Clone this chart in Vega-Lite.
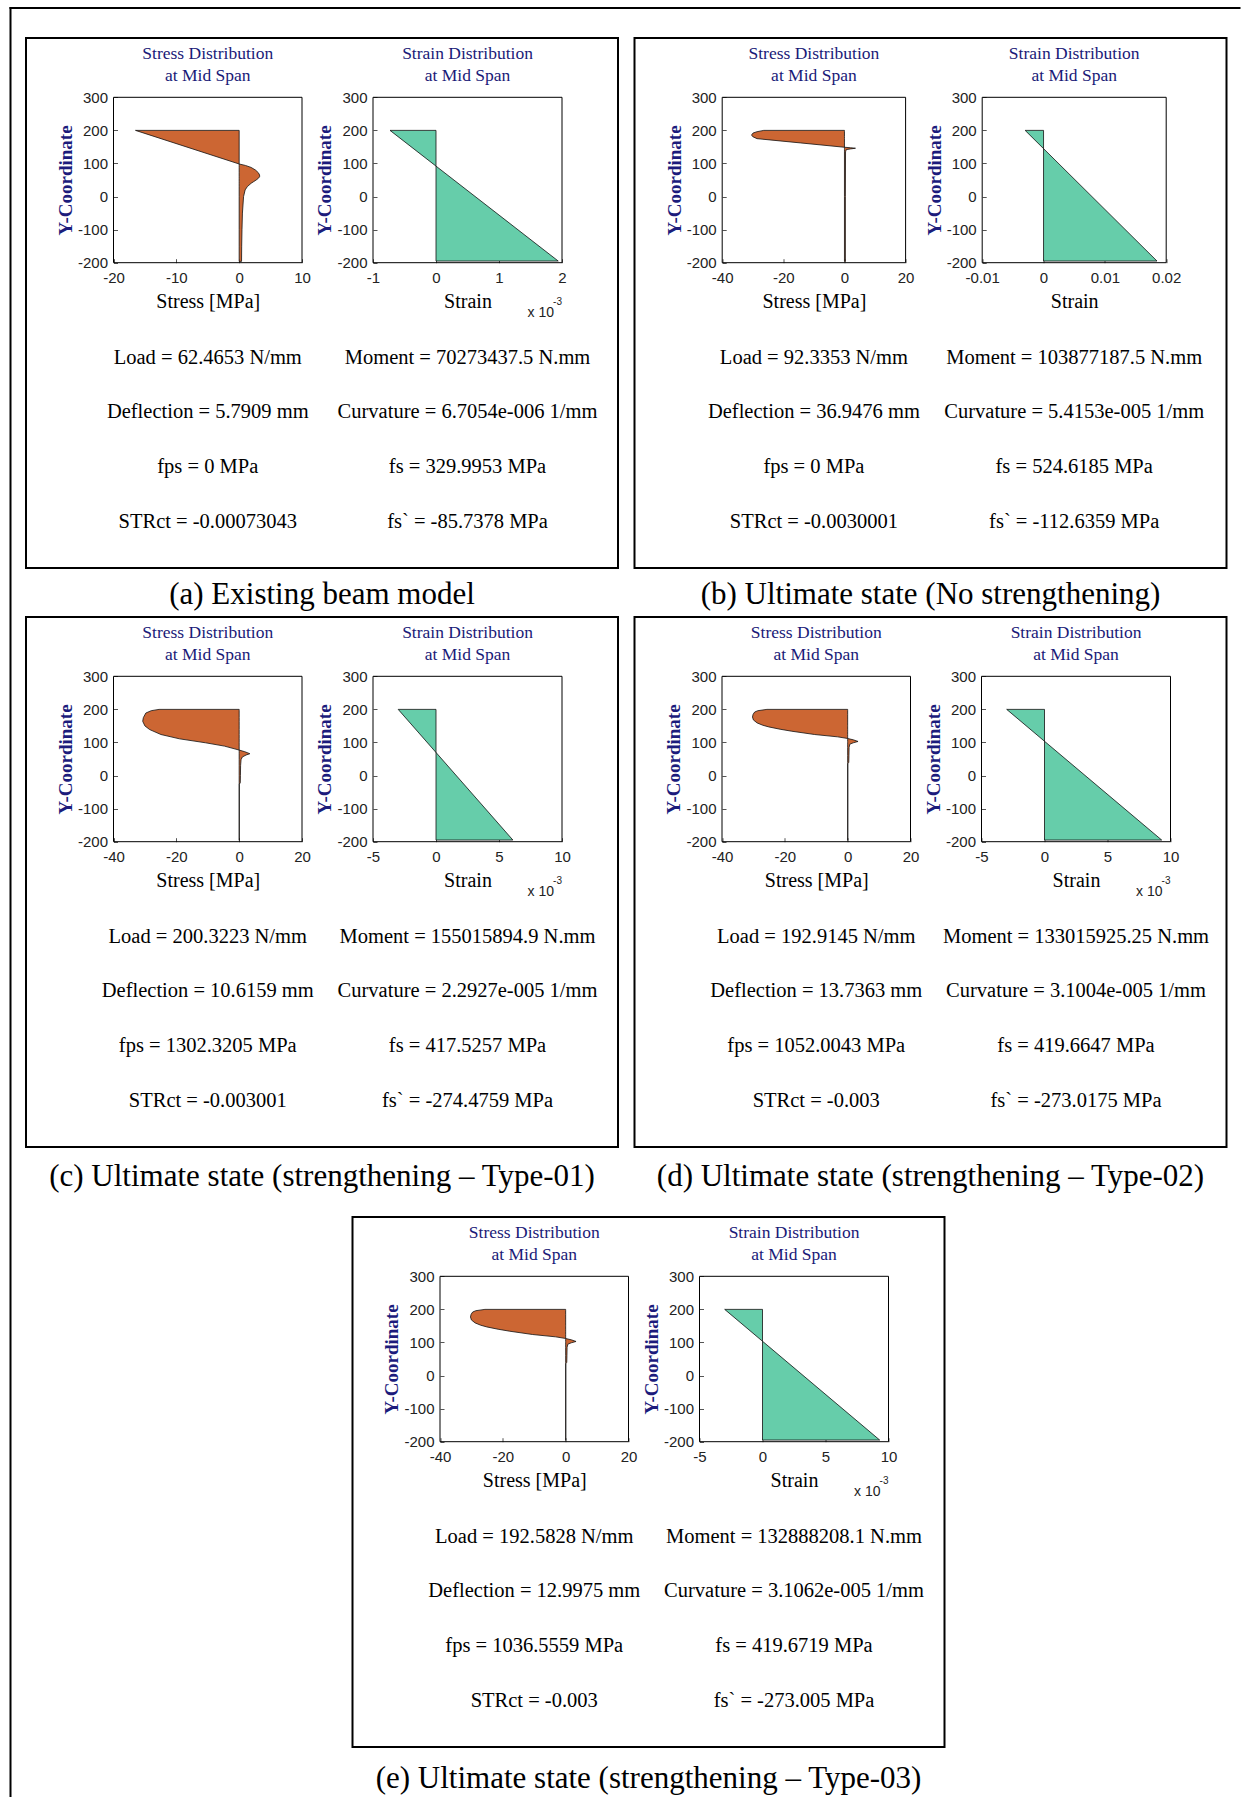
{
"$schema": "https://vega.github.io/schema/vega-lite/v6.json",
"background": "white",
"padding": {"left": 9, "top": 6, "right": 0, "bottom": 0},
"config": {
  "view": {"stroke": "black", "strokeWidth": 2},
  "axis": {"grid": false, "domain": false, "ticks": true, "tickSize": -4, "tickColor": "#555", "tickWidth": 1,
           "labelFont": "Liberation Sans", "labelFontSize": 15, "labelColor": "#222", "labelFlush": false, "labelOverlap": false,
           "titleFont": "Liberation Serif", "titleFontWeight": "normal", "titleColor": "black", "titleFontSize": 20},
  "axisX": {"labelPadding": 12, "titlePadding": 22, "titleBaseline": "alphabetic"},
  "axisY": {"labelPadding": 10, "titlePadding": 6, "titleBaseline": "alphabetic", "titleColor": "#1c1c7c", "titleFontWeight": "bold", "titleFontSize": 19},
  "title": {"font": "Liberation Serif", "fontSize": 31, "fontWeight": "normal", "color": "black", "orient": "bottom", "offset": 12, "anchor": "middle"},
  "text": {"font": "Liberation Serif"}
},
"datasets": {
  "stress": [
    {"p":"a","y":200,"s":-16.5},{"p":"a","y":98.4,"s":0},{"p":"a","y":94,"s":1.0},{"p":"a","y":88,"s":1.9},{"p":"a","y":80,"s":2.6},{"p":"a","y":72,"s":3.05},{"p":"a","y":65,"s":3.25},{"p":"a","y":60,"s":3.25},{"p":"a","y":55,"s":3.05},{"p":"a","y":50,"s":2.7},{"p":"a","y":45,"s":2.3},{"p":"a","y":40,"s":1.9},{"p":"a","y":30,"s":1.3},{"p":"a","y":20,"s":0.95},{"p":"a","y":0,"s":0.7},{"p":"a","y":-50,"s":0.52},{"p":"a","y":-100,"s":0.45},{"p":"a","y":-150,"s":0.4},{"p":"a","y":-196,"s":0.38},
    {"p":"b","y":200,"s":-26.4},{"p":"b","y":196,"s":-28.6},{"p":"b","y":192,"s":-29.9},{"p":"b","y":186,"s":-30.4},{"p":"b","y":181,"s":-30.0},{"p":"b","y":175,"s":-28.6},{"p":"b","y":162,"s":-14.3},{"p":"b","y":149,"s":0},{"p":"b","y":147.5,"s":2.0},{"p":"b","y":146,"s":3.6},{"p":"b","y":144,"s":2.0},{"p":"b","y":142,"s":0.6},{"p":"b","y":135,"s":0.35},{"p":"b","y":0,"s":0.3},{"p":"b","y":-196,"s":0.3},
    {"p":"c","y":200,"s":-25.5},{"p":"c","y":196,"s":-28.0},{"p":"c","y":189,"s":-29.7},{"p":"c","y":175,"s":-30.5},{"p":"c","y":164,"s":-30.7},{"p":"c","y":150,"s":-30.0},{"p":"c","y":139,"s":-28.5},{"p":"c","y":124,"s":-24.9},{"p":"c","y":111,"s":-19.0},{"p":"c","y":99,"s":-10.7},{"p":"c","y":89,"s":-4.7},{"p":"c","y":77,"s":0},{"p":"c","y":72,"s":1.8},{"p":"c","y":66,"s":3.4},{"p":"c","y":62,"s":2.2},{"p":"c","y":56,"s":1.0},{"p":"c","y":48,"s":0.6},{"p":"c","y":30,"s":0.45},{"p":"c","y":0,"s":0.4},{"p":"c","y":-22,"s":0.35},{"p":"c","y":-26,"s":0.05},{"p":"c","y":-196,"s":0.05},
    {"p":"d","y":200,"s":-25.7},{"p":"d","y":196,"s":-28.6},{"p":"d","y":192,"s":-29.6},{"p":"d","y":185,"s":-30.1},{"p":"d","y":177,"s":-30.3},{"p":"d","y":168,"s":-30.0},{"p":"d","y":159,"s":-28.8},{"p":"d","y":152,"s":-27.0},{"p":"d","y":147,"s":-25.1},{"p":"d","y":140,"s":-21.5},{"p":"d","y":134,"s":-17.8},{"p":"d","y":124,"s":-10.5},{"p":"d","y":117,"s":-3.2},{"p":"d","y":112,"s":0},{"p":"d","y":108,"s":1.8},{"p":"d","y":103,"s":3.3},{"p":"d","y":99,"s":1.8},{"p":"d","y":95,"s":0.7},{"p":"d","y":85,"s":0.45},{"p":"d","y":60,"s":0.4},{"p":"d","y":40,"s":0.35},{"p":"d","y":36,"s":0.05},{"p":"d","y":-196,"s":0.05},
    {"p":"e","y":200,"s":-25.7},{"p":"e","y":196,"s":-28.6},{"p":"e","y":192,"s":-29.6},{"p":"e","y":185,"s":-30.1},{"p":"e","y":177,"s":-30.3},{"p":"e","y":168,"s":-30.0},{"p":"e","y":159,"s":-28.8},{"p":"e","y":152,"s":-27.0},{"p":"e","y":147,"s":-25.1},{"p":"e","y":140,"s":-21.5},{"p":"e","y":134,"s":-17.8},{"p":"e","y":124,"s":-10.5},{"p":"e","y":117,"s":-3.2},{"p":"e","y":112,"s":0},{"p":"e","y":108,"s":1.8},{"p":"e","y":103,"s":3.3},{"p":"e","y":99,"s":1.8},{"p":"e","y":95,"s":0.7},{"p":"e","y":85,"s":0.45},{"p":"e","y":60,"s":0.4},{"p":"e","y":40,"s":0.35},{"p":"e","y":36,"s":0.05},{"p":"e","y":-196,"s":0.05}
  ],
  "strain": [
    {"p":"a","y":200,"e":-0.73},{"p":"a","y":-195,"e":1.94},
    {"p":"b","y":200,"e":-0.003},{"p":"b","y":-195,"e":0.0185},
    {"p":"c","y":200,"e":-3.0},{"p":"c","y":-195,"e":6.1},
    {"p":"d","y":200,"e":-3.0},{"p":"d","y":-195,"e":9.3},
    {"p":"e","y":200,"e":-3.0},{"p":"e","y":-195,"e":9.3}
  ],
  "stats": [
    {"p":"a","col":1,"row":1,"text":"Load = 62.4653 N/mm"},
    {"p":"a","col":1,"row":2,"text":"Deflection = 5.7909 mm"},
    {"p":"a","col":1,"row":3,"text":"fps = 0 MPa"},
    {"p":"a","col":1,"row":4,"text":"STRct = -0.00073043"},
    {"p":"a","col":2,"row":1,"text":"Moment = 70273437.5 N.mm"},
    {"p":"a","col":2,"row":2,"text":"Curvature = 6.7054e-006 1/mm"},
    {"p":"a","col":2,"row":3,"text":"fs = 329.9953 MPa"},
    {"p":"a","col":2,"row":4,"text":"fs` = -85.7378 MPa"},
    {"p":"b","col":1,"row":1,"text":"Load = 92.3353 N/mm"},
    {"p":"b","col":1,"row":2,"text":"Deflection = 36.9476 mm"},
    {"p":"b","col":1,"row":3,"text":"fps = 0 MPa"},
    {"p":"b","col":1,"row":4,"text":"STRct = -0.0030001"},
    {"p":"b","col":2,"row":1,"text":"Moment = 103877187.5 N.mm"},
    {"p":"b","col":2,"row":2,"text":"Curvature = 5.4153e-005 1/mm"},
    {"p":"b","col":2,"row":3,"text":"fs = 524.6185 MPa"},
    {"p":"b","col":2,"row":4,"text":"fs` = -112.6359 MPa"},
    {"p":"c","col":1,"row":1,"text":"Load = 200.3223 N/mm"},
    {"p":"c","col":1,"row":2,"text":"Deflection = 10.6159 mm"},
    {"p":"c","col":1,"row":3,"text":"fps = 1302.3205 MPa"},
    {"p":"c","col":1,"row":4,"text":"STRct = -0.003001"},
    {"p":"c","col":2,"row":1,"text":"Moment = 155015894.9 N.mm"},
    {"p":"c","col":2,"row":2,"text":"Curvature = 2.2927e-005 1/mm"},
    {"p":"c","col":2,"row":3,"text":"fs = 417.5257 MPa"},
    {"p":"c","col":2,"row":4,"text":"fs` = -274.4759 MPa"},
    {"p":"d","col":1,"row":1,"text":"Load = 192.9145 N/mm"},
    {"p":"d","col":1,"row":2,"text":"Deflection = 13.7363 mm"},
    {"p":"d","col":1,"row":3,"text":"fps = 1052.0043 MPa"},
    {"p":"d","col":1,"row":4,"text":"STRct = -0.003"},
    {"p":"d","col":2,"row":1,"text":"Moment = 133015925.25 N.mm"},
    {"p":"d","col":2,"row":2,"text":"Curvature = 3.1004e-005 1/mm"},
    {"p":"d","col":2,"row":3,"text":"fs = 419.6647 MPa"},
    {"p":"d","col":2,"row":4,"text":"fs` = -273.0175 MPa"},
    {"p":"e","col":1,"row":1,"text":"Load = 192.5828 N/mm"},
    {"p":"e","col":1,"row":2,"text":"Deflection = 12.9975 mm"},
    {"p":"e","col":1,"row":3,"text":"fps = 1036.5559 MPa"},
    {"p":"e","col":1,"row":4,"text":"STRct = -0.003"},
    {"p":"e","col":2,"row":1,"text":"Moment = 132888208.1 N.mm"},
    {"p":"e","col":2,"row":2,"text":"Curvature = 3.1062e-005 1/mm"},
    {"p":"e","col":2,"row":3,"text":"fs = 419.6719 MPa"},
    {"p":"e","col":2,"row":4,"text":"fs` = -273.005 MPa"}
  ]
},
"columns": 3,
"align": "each",
"bounds": "flush",
"spacing": {"row": 49, "column": 16.5},
"concat": [
   {"width": 592, "height": 530, "title": {"text": "(a) Existing beam model", "offset": 12.2},
    "resolve": {"scale": {"x": "independent", "y": "independent"}},
    "layer": [
     {"data": {"name": "stress"}, "transform": [{"filter": "datum.p == 'a'"}],
      "layer": [
       {"mark": {"type": "area", "orient": "horizontal", "fill": "#CC6633", "stroke": "#111", "strokeWidth": 0.8},
        "encoding": {
         "x": {"field": "s", "type": "quantitative", "stack": null, "scale": {"domain": [-20, 10], "range": [87.5, 276], "nice": false, "zero": false},
               "axis": {"orient": "bottom", "offset": -305.3, "values": [-20, -10, 0, 10], "format": "~r", "labelExpr": "replace(datum.label, '\u2212', '-')", "title": "Stress [MPa]"}},
         "y": {"field": "y", "type": "quantitative", "scale": {"domain": [-200, 300], "range": [224.7, 59.3], "nice": false, "zero": false},
               "axis": {"orient": "left", "offset": -87.5, "values": [-200, -100, 0, 100, 200, 300], "format": "~r", "labelExpr": "replace(datum.label, '\u2212', '-')", "title": "Y-Coordinate"}}}},
       {"data": {"values": [{"box": 1}]}, "mark": {"type": "rect", "filled": false, "stroke": "black", "strokeWidth": 1},
        "encoding": {"x": {"datum": -20}, "x2": {"datum": 10}, "y": {"datum": -200}, "y2": {"datum": 300}}},
       {"data": {"values": [{"label": "Stress Distribution\nat Mid Span"}]},
        "mark": {"type": "text", "fontSize": 17.5, "color": "#1a1a78", "lineBreak": "\n", "lineHeight": 22, "baseline": "alphabetic", "dy": -38.3},
        "encoding": {"x": {"datum": -5}, "y": {"datum": 300}, "text": {"field": "label"}}}
      ]},
     {"data": {"name": "strain"}, "transform": [{"filter": "datum.p == 'a'"}],
      "layer": [
       {"mark": {"type": "area", "orient": "horizontal", "fill": "#66CDAA", "stroke": "#111", "strokeWidth": 0.8},
        "encoding": {
         "x": {"field": "e", "type": "quantitative", "stack": null, "scale": {"domain": [-1, 2], "range": [347, 536], "nice": false, "zero": false},
               "axis": {"orient": "bottom", "offset": -305.3, "values": [-1, 0, 1, 2], "format": "~r", "labelExpr": "replace(datum.label, '\u2212', '-')", "title": "Strain"}},
         "y": {"field": "y", "type": "quantitative", "scale": {"domain": [-200, 300], "range": [224.7, 59.3], "nice": false, "zero": false},
               "axis": {"orient": "left", "offset": -347, "values": [-200, -100, 0, 100, 200, 300], "format": "~r", "labelExpr": "replace(datum.label, '\u2212', '-')", "title": "Y-Coordinate"}}}},
       {"data": {"values": [{"box": 1}]}, "mark": {"type": "rect", "filled": false, "stroke": "black", "strokeWidth": 1},
        "encoding": {"x": {"datum": -1}, "x2": {"datum": 2}, "y": {"datum": -200}, "y2": {"datum": 300}}},
       {"data": {"values": [{"label": "Strain Distribution\nat Mid Span"}]},
        "mark": {"type": "text", "fontSize": 17.5, "color": "#1a1a78", "lineBreak": "\n", "lineHeight": 22, "baseline": "alphabetic", "dy": -38.3},
        "encoding": {"x": {"datum": 0.5}, "y": {"datum": 300}, "text": {"field": "label"}}},
       {"data": {"values": [{"label": "x 10"}]},
        "mark": {"type": "text", "font": "Liberation Sans", "fontSize": 14, "color": "#222", "align": "right", "baseline": "alphabetic", "dx": -8, "dy": 54},
        "encoding": {"x": {"datum": 2}, "y": {"datum": -200}, "text": {"field": "label"}}},
       {"data": {"values": [{"label": "-3"}]},
        "mark": {"type": "text", "font": "Liberation Sans", "fontSize": 10, "color": "#222", "align": "right", "baseline": "alphabetic", "dx": 0, "dy": 42},
        "encoding": {"x": {"datum": 2}, "y": {"datum": -200}, "text": {"field": "label"}}}
      ]},
     {"data": {"name": "stats"}, "transform": [{"filter": "datum.p == 'a'"}],
      "mark": {"type": "text", "fontSize": 20.5, "color": "black", "baseline": "alphabetic"},
      "encoding": {
       "x": {"field": "col", "type": "ordinal", "scale": {"type": "point", "range": [181.75, 441.5], "padding": 0}, "axis": null},
       "y": {"field": "row", "type": "ordinal", "scale": {"type": "point", "range": [325.5, 489.5], "padding": 0}, "axis": null},
       "text": {"field": "text"}}}
    ]},
   {"width": 592, "height": 530, "title": {"text": "(b) Ultimate state (No strengthening)", "offset": 12.2},
    "resolve": {"scale": {"x": "independent", "y": "independent"}},
    "layer": [
     {"data": {"name": "stress"}, "transform": [{"filter": "datum.p == 'b'"}],
      "layer": [
       {"mark": {"type": "area", "orient": "horizontal", "fill": "#CC6633", "stroke": "#111", "strokeWidth": 0.8},
        "encoding": {
         "x": {"field": "s", "type": "quantitative", "stack": null, "scale": {"domain": [-40, 20], "range": [87.7, 271.1], "nice": false, "zero": false},
               "axis": {"orient": "bottom", "offset": -305.3, "values": [-40, -20, 0, 20], "format": "~r", "labelExpr": "replace(datum.label, '\u2212', '-')", "title": "Stress [MPa]"}},
         "y": {"field": "y", "type": "quantitative", "scale": {"domain": [-200, 300], "range": [224.7, 59.3], "nice": false, "zero": false},
               "axis": {"orient": "left", "offset": -87.7, "values": [-200, -100, 0, 100, 200, 300], "format": "~r", "labelExpr": "replace(datum.label, '\u2212', '-')", "title": "Y-Coordinate"}}}},
       {"data": {"values": [{"box": 1}]}, "mark": {"type": "rect", "filled": false, "stroke": "black", "strokeWidth": 1},
        "encoding": {"x": {"datum": -40}, "x2": {"datum": 20}, "y": {"datum": -200}, "y2": {"datum": 300}}},
       {"data": {"values": [{"label": "Stress Distribution\nat Mid Span"}]},
        "mark": {"type": "text", "fontSize": 17.5, "color": "#1a1a78", "lineBreak": "\n", "lineHeight": 22, "baseline": "alphabetic", "dy": -38.3},
        "encoding": {"x": {"datum": -10}, "y": {"datum": 300}, "text": {"field": "label"}}}
      ]},
     {"data": {"name": "strain"}, "transform": [{"filter": "datum.p == 'b'"}],
      "layer": [
       {"mark": {"type": "area", "orient": "horizontal", "fill": "#66CDAA", "stroke": "#111", "strokeWidth": 0.8},
        "encoding": {
         "x": {"field": "e", "type": "quantitative", "stack": null, "scale": {"domain": [-0.01, 0.02], "range": [347.7, 531.7], "nice": false, "zero": false},
               "axis": {"orient": "bottom", "offset": -305.3, "values": [-0.01, 0, 0.01, 0.02], "format": "~r", "labelExpr": "replace(datum.label, '\u2212', '-')", "title": "Strain"}},
         "y": {"field": "y", "type": "quantitative", "scale": {"domain": [-200, 300], "range": [224.7, 59.3], "nice": false, "zero": false},
               "axis": {"orient": "left", "offset": -347.7, "values": [-200, -100, 0, 100, 200, 300], "format": "~r", "labelExpr": "replace(datum.label, '\u2212', '-')", "title": "Y-Coordinate"}}}},
       {"data": {"values": [{"box": 1}]}, "mark": {"type": "rect", "filled": false, "stroke": "black", "strokeWidth": 1},
        "encoding": {"x": {"datum": -0.01}, "x2": {"datum": 0.02}, "y": {"datum": -200}, "y2": {"datum": 300}}},
       {"data": {"values": [{"label": "Strain Distribution\nat Mid Span"}]},
        "mark": {"type": "text", "fontSize": 17.5, "color": "#1a1a78", "lineBreak": "\n", "lineHeight": 22, "baseline": "alphabetic", "dy": -38.3},
        "encoding": {"x": {"datum": 0.005}, "y": {"datum": 300}, "text": {"field": "label"}}}
      ]},
     {"data": {"name": "stats"}, "transform": [{"filter": "datum.p == 'b'"}],
      "mark": {"type": "text", "fontSize": 20.5, "color": "black", "baseline": "alphabetic"},
      "encoding": {
       "x": {"field": "col", "type": "ordinal", "scale": {"type": "point", "range": [179.4, 439.7], "padding": 0}, "axis": null},
       "y": {"field": "row", "type": "ordinal", "scale": {"type": "point", "range": [325.5, 489.5], "padding": 0}, "axis": null},
       "text": {"field": "text"}}}
    ]},
   {"width": 1, "height": 10, "view": {"stroke": null}, "data": {"values": [{"edge": "outer frame"}]},
    "layer": [
     {"mark": {"type": "rule", "color": "black", "strokeWidth": 2, "strokeCap": "square"},
      "encoding": {"x": {"datum": 0, "type": "quantitative", "scale": {"domain": [0, 1], "range": [-1232.5, -3.5], "nice": false, "zero": false}, "axis": null},
                   "y": {"datum": 0, "type": "quantitative", "scale": {"domain": [0, 1], "range": [-30, 1758], "nice": false, "zero": false}, "axis": null},
                   "y2": {"datum": 1}}},
     {"mark": {"type": "rule", "color": "black", "strokeWidth": 2, "strokeCap": "square"},
      "encoding": {"x": {"datum": 0, "type": "quantitative"}, "x2": {"datum": 1}, "y": {"datum": 0, "type": "quantitative"}}}
    ]},
   {"width": 592, "height": 530, "title": {"text": "(c) Ultimate state (strengthening \u2013 Type-01)", "offset": 14.7},
    "resolve": {"scale": {"x": "independent", "y": "independent"}},
    "layer": [
     {"data": {"name": "stress"}, "transform": [{"filter": "datum.p == 'c'"}],
      "layer": [
       {"mark": {"type": "area", "orient": "horizontal", "fill": "#CC6633", "stroke": "#111", "strokeWidth": 0.8},
        "encoding": {
         "x": {"field": "s", "type": "quantitative", "stack": null, "scale": {"domain": [-40, 20], "range": [87.5, 276], "nice": false, "zero": false},
               "axis": {"orient": "bottom", "offset": -305.3, "values": [-40, -20, 0, 20], "format": "~r", "labelExpr": "replace(datum.label, '\u2212', '-')", "title": "Stress [MPa]"}},
         "y": {"field": "y", "type": "quantitative", "scale": {"domain": [-200, 300], "range": [224.7, 59.3], "nice": false, "zero": false},
               "axis": {"orient": "left", "offset": -87.5, "values": [-200, -100, 0, 100, 200, 300], "format": "~r", "labelExpr": "replace(datum.label, '\u2212', '-')", "title": "Y-Coordinate"}}}},
       {"data": {"values": [{"box": 1}]}, "mark": {"type": "rect", "filled": false, "stroke": "black", "strokeWidth": 1},
        "encoding": {"x": {"datum": -40}, "x2": {"datum": 20}, "y": {"datum": -200}, "y2": {"datum": 300}}},
       {"data": {"values": [{"label": "Stress Distribution\nat Mid Span"}]},
        "mark": {"type": "text", "fontSize": 17.5, "color": "#1a1a78", "lineBreak": "\n", "lineHeight": 22, "baseline": "alphabetic", "dy": -38.3},
        "encoding": {"x": {"datum": -10}, "y": {"datum": 300}, "text": {"field": "label"}}}
      ]},
     {"data": {"name": "strain"}, "transform": [{"filter": "datum.p == 'c'"}],
      "layer": [
       {"mark": {"type": "area", "orient": "horizontal", "fill": "#66CDAA", "stroke": "#111", "strokeWidth": 0.8},
        "encoding": {
         "x": {"field": "e", "type": "quantitative", "stack": null, "scale": {"domain": [-5, 10], "range": [347, 536], "nice": false, "zero": false},
               "axis": {"orient": "bottom", "offset": -305.3, "values": [-5, 0, 5, 10], "format": "~r", "labelExpr": "replace(datum.label, '\u2212', '-')", "title": "Strain"}},
         "y": {"field": "y", "type": "quantitative", "scale": {"domain": [-200, 300], "range": [224.7, 59.3], "nice": false, "zero": false},
               "axis": {"orient": "left", "offset": -347, "values": [-200, -100, 0, 100, 200, 300], "format": "~r", "labelExpr": "replace(datum.label, '\u2212', '-')", "title": "Y-Coordinate"}}}},
       {"data": {"values": [{"box": 1}]}, "mark": {"type": "rect", "filled": false, "stroke": "black", "strokeWidth": 1},
        "encoding": {"x": {"datum": -5}, "x2": {"datum": 10}, "y": {"datum": -200}, "y2": {"datum": 300}}},
       {"data": {"values": [{"label": "Strain Distribution\nat Mid Span"}]},
        "mark": {"type": "text", "fontSize": 17.5, "color": "#1a1a78", "lineBreak": "\n", "lineHeight": 22, "baseline": "alphabetic", "dy": -38.3},
        "encoding": {"x": {"datum": 2.5}, "y": {"datum": 300}, "text": {"field": "label"}}},
       {"data": {"values": [{"label": "x 10"}]},
        "mark": {"type": "text", "font": "Liberation Sans", "fontSize": 14, "color": "#222", "align": "right", "baseline": "alphabetic", "dx": -8, "dy": 54},
        "encoding": {"x": {"datum": 10}, "y": {"datum": -200}, "text": {"field": "label"}}},
       {"data": {"values": [{"label": "-3"}]},
        "mark": {"type": "text", "font": "Liberation Sans", "fontSize": 10, "color": "#222", "align": "right", "baseline": "alphabetic", "dx": 0, "dy": 42},
        "encoding": {"x": {"datum": 10}, "y": {"datum": -200}, "text": {"field": "label"}}}
      ]},
     {"data": {"name": "stats"}, "transform": [{"filter": "datum.p == 'c'"}],
      "mark": {"type": "text", "fontSize": 20.5, "color": "black", "baseline": "alphabetic"},
      "encoding": {
       "x": {"field": "col", "type": "ordinal", "scale": {"type": "point", "range": [181.75, 441.5], "padding": 0}, "axis": null},
       "y": {"field": "row", "type": "ordinal", "scale": {"type": "point", "range": [325.5, 489.5], "padding": 0}, "axis": null},
       "text": {"field": "text"}}}
    ]},
   {"width": 592, "height": 530, "title": {"text": "(d) Ultimate state (strengthening \u2013 Type-02)", "offset": 14.7},
    "resolve": {"scale": {"x": "independent", "y": "independent"}},
    "layer": [
     {"data": {"name": "stress"}, "transform": [{"filter": "datum.p == 'd'"}],
      "layer": [
       {"mark": {"type": "area", "orient": "horizontal", "fill": "#CC6633", "stroke": "#111", "strokeWidth": 0.8},
        "encoding": {
         "x": {"field": "s", "type": "quantitative", "stack": null, "scale": {"domain": [-40, 20], "range": [87.5, 276], "nice": false, "zero": false},
               "axis": {"orient": "bottom", "offset": -305.3, "values": [-40, -20, 0, 20], "format": "~r", "labelExpr": "replace(datum.label, '\u2212', '-')", "title": "Stress [MPa]"}},
         "y": {"field": "y", "type": "quantitative", "scale": {"domain": [-200, 300], "range": [224.7, 59.3], "nice": false, "zero": false},
               "axis": {"orient": "left", "offset": -87.5, "values": [-200, -100, 0, 100, 200, 300], "format": "~r", "labelExpr": "replace(datum.label, '\u2212', '-')", "title": "Y-Coordinate"}}}},
       {"data": {"values": [{"box": 1}]}, "mark": {"type": "rect", "filled": false, "stroke": "black", "strokeWidth": 1},
        "encoding": {"x": {"datum": -40}, "x2": {"datum": 20}, "y": {"datum": -200}, "y2": {"datum": 300}}},
       {"data": {"values": [{"label": "Stress Distribution\nat Mid Span"}]},
        "mark": {"type": "text", "fontSize": 17.5, "color": "#1a1a78", "lineBreak": "\n", "lineHeight": 22, "baseline": "alphabetic", "dy": -38.3},
        "encoding": {"x": {"datum": -10}, "y": {"datum": 300}, "text": {"field": "label"}}}
      ]},
     {"data": {"name": "strain"}, "transform": [{"filter": "datum.p == 'd'"}],
      "layer": [
       {"mark": {"type": "area", "orient": "horizontal", "fill": "#66CDAA", "stroke": "#111", "strokeWidth": 0.8},
        "encoding": {
         "x": {"field": "e", "type": "quantitative", "stack": null, "scale": {"domain": [-5, 10], "range": [347, 536], "nice": false, "zero": false},
               "axis": {"orient": "bottom", "offset": -305.3, "values": [-5, 0, 5, 10], "format": "~r", "labelExpr": "replace(datum.label, '\u2212', '-')", "title": "Strain"}},
         "y": {"field": "y", "type": "quantitative", "scale": {"domain": [-200, 300], "range": [224.7, 59.3], "nice": false, "zero": false},
               "axis": {"orient": "left", "offset": -347, "values": [-200, -100, 0, 100, 200, 300], "format": "~r", "labelExpr": "replace(datum.label, '\u2212', '-')", "title": "Y-Coordinate"}}}},
       {"data": {"values": [{"box": 1}]}, "mark": {"type": "rect", "filled": false, "stroke": "black", "strokeWidth": 1},
        "encoding": {"x": {"datum": -5}, "x2": {"datum": 10}, "y": {"datum": -200}, "y2": {"datum": 300}}},
       {"data": {"values": [{"label": "Strain Distribution\nat Mid Span"}]},
        "mark": {"type": "text", "fontSize": 17.5, "color": "#1a1a78", "lineBreak": "\n", "lineHeight": 22, "baseline": "alphabetic", "dy": -38.3},
        "encoding": {"x": {"datum": 2.5}, "y": {"datum": 300}, "text": {"field": "label"}}},
       {"data": {"values": [{"label": "x 10"}]},
        "mark": {"type": "text", "font": "Liberation Sans", "fontSize": 14, "color": "#222", "align": "right", "baseline": "alphabetic", "dx": -8, "dy": 54},
        "encoding": {"x": {"datum": 10}, "y": {"datum": -200}, "text": {"field": "label"}}},
       {"data": {"values": [{"label": "-3"}]},
        "mark": {"type": "text", "font": "Liberation Sans", "fontSize": 10, "color": "#222", "align": "right", "baseline": "alphabetic", "dx": 0, "dy": 42},
        "encoding": {"x": {"datum": 10}, "y": {"datum": -200}, "text": {"field": "label"}}}
      ]},
     {"data": {"name": "stats"}, "transform": [{"filter": "datum.p == 'd'"}],
      "mark": {"type": "text", "fontSize": 20.5, "color": "black", "baseline": "alphabetic"},
      "encoding": {
       "x": {"field": "col", "type": "ordinal", "scale": {"type": "point", "range": [181.75, 441.5], "padding": 0}, "axis": null},
       "y": {"field": "row", "type": "ordinal", "scale": {"type": "point", "range": [325.5, 489.5], "padding": 0}, "axis": null},
       "text": {"field": "text"}}}
    ]},
   {"width": 1, "height": 551, "data": {"values": []}, "mark": {"type": "point", "opacity": 0}, "view": {"stroke": null}},
   {"hconcat": [
    {"width": 309, "height": 10, "data": {"values": []}, "mark": {"type": "point", "opacity": 0}, "view": {"stroke": null}},
    {"width": 592, "height": 530, "title": {"text": "(e) Ultimate state (strengthening \u2013 Type-03)", "offset": 17},
     "resolve": {"scale": {"x": "independent", "y": "independent"}},
     "layer": [
      {"data": {"name": "stress"}, "transform": [{"filter": "datum.p == 'e'"}],
       "layer": [
        {"mark": {"type": "area", "orient": "horizontal", "fill": "#CC6633", "stroke": "#111", "strokeWidth": 0.8},
         "encoding": {
          "x": {"field": "s", "type": "quantitative", "stack": null, "scale": {"domain": [-40, 20], "range": [87.5, 276], "nice": false, "zero": false},
                "axis": {"orient": "bottom", "offset": -305.3, "values": [-40, -20, 0, 20], "format": "~r", "labelExpr": "replace(datum.label, '\u2212', '-')", "title": "Stress [MPa]"}},
          "y": {"field": "y", "type": "quantitative", "scale": {"domain": [-200, 300], "range": [224.7, 59.3], "nice": false, "zero": false},
                "axis": {"orient": "left", "offset": -87.5, "values": [-200, -100, 0, 100, 200, 300], "format": "~r", "labelExpr": "replace(datum.label, '\u2212', '-')", "title": "Y-Coordinate"}}}},
        {"data": {"values": [{"box": 1}]}, "mark": {"type": "rect", "filled": false, "stroke": "black", "strokeWidth": 1},
         "encoding": {"x": {"datum": -40}, "x2": {"datum": 20}, "y": {"datum": -200}, "y2": {"datum": 300}}},
        {"data": {"values": [{"label": "Stress Distribution\nat Mid Span"}]},
         "mark": {"type": "text", "fontSize": 17.5, "color": "#1a1a78", "lineBreak": "\n", "lineHeight": 22, "baseline": "alphabetic", "dy": -38.3},
         "encoding": {"x": {"datum": -10}, "y": {"datum": 300}, "text": {"field": "label"}}}
       ]},
      {"data": {"name": "strain"}, "transform": [{"filter": "datum.p == 'e'"}],
       "layer": [
        {"mark": {"type": "area", "orient": "horizontal", "fill": "#66CDAA", "stroke": "#111", "strokeWidth": 0.8},
         "encoding": {
          "x": {"field": "e", "type": "quantitative", "stack": null, "scale": {"domain": [-5, 10], "range": [347, 536], "nice": false, "zero": false},
                "axis": {"orient": "bottom", "offset": -305.3, "values": [-5, 0, 5, 10], "format": "~r", "labelExpr": "replace(datum.label, '\u2212', '-')", "title": "Strain"}},
          "y": {"field": "y", "type": "quantitative", "scale": {"domain": [-200, 300], "range": [224.7, 59.3], "nice": false, "zero": false},
                "axis": {"orient": "left", "offset": -347, "values": [-200, -100, 0, 100, 200, 300], "format": "~r", "labelExpr": "replace(datum.label, '\u2212', '-')", "title": "Y-Coordinate"}}}},
        {"data": {"values": [{"box": 1}]}, "mark": {"type": "rect", "filled": false, "stroke": "black", "strokeWidth": 1},
         "encoding": {"x": {"datum": -5}, "x2": {"datum": 10}, "y": {"datum": -200}, "y2": {"datum": 300}}},
        {"data": {"values": [{"label": "Strain Distribution\nat Mid Span"}]},
         "mark": {"type": "text", "fontSize": 17.5, "color": "#1a1a78", "lineBreak": "\n", "lineHeight": 22, "baseline": "alphabetic", "dy": -38.3},
         "encoding": {"x": {"datum": 2.5}, "y": {"datum": 300}, "text": {"field": "label"}}},
        {"data": {"values": [{"label": "x 10"}]},
         "mark": {"type": "text", "font": "Liberation Sans", "fontSize": 14, "color": "#222", "align": "right", "baseline": "alphabetic", "dx": -8, "dy": 54},
         "encoding": {"x": {"datum": 10}, "y": {"datum": -200}, "text": {"field": "label"}}},
        {"data": {"values": [{"label": "-3"}]},
         "mark": {"type": "text", "font": "Liberation Sans", "fontSize": 10, "color": "#222", "align": "right", "baseline": "alphabetic", "dx": 0, "dy": 42},
         "encoding": {"x": {"datum": 10}, "y": {"datum": -200}, "text": {"field": "label"}}}
       ]},
      {"data": {"name": "stats"}, "transform": [{"filter": "datum.p == 'e'"}],
       "mark": {"type": "text", "fontSize": 20.5, "color": "black", "baseline": "alphabetic"},
       "encoding": {
        "x": {"field": "col", "type": "ordinal", "scale": {"type": "point", "range": [181.75, 441.5], "padding": 0}, "axis": null},
        "y": {"field": "row", "type": "ordinal", "scale": {"type": "point", "range": [325.5, 489.5], "padding": 0}, "axis": null},
        "text": {"field": "text"}}}
     ]}
   ], "spacing": 16.5}
]
}
